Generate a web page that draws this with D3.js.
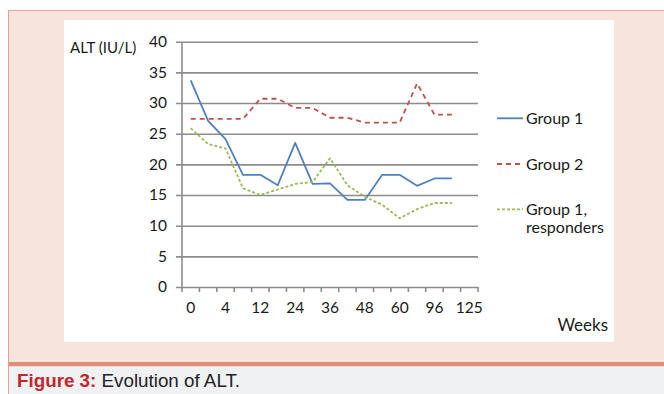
<!DOCTYPE html>
<html>
<head>
<meta charset="utf-8">
<script src="https://cdn.jsdelivr.net/npm/d3@7"></script>
<style>
  html, body { margin: 0; padding: 0; background: #ffffff; }
  svg { display: block; }
</style>
</head>
<body>
<script>
// ---- data ----
const categories = ["0", "2", "4", "8", "12", "16", "24", "30", "36", "42", "48", "54", "60", "72", "96", "108", "125"];
const tickLabels = ["0", "4", "12", "24", "36", "48", "60", "96", "125"];
const group1 = [33.7, 27.1, 24.1, 18.3, 18.3, 16.6, 23.5, 16.8, 16.9, 14.2, 14.2, 18.3, 18.3, 16.5, 17.7, 17.7];
const group2 = [27.4, 27.4, 27.4, 27.4, 30.7, 30.7, 29.2, 29.2, 27.6, 27.6, 26.8, 26.8, 26.8, 33.2, 28.1, 28.1];
const group1Resp = [25.9, 23.3, 22.6, 16.1, 15.0, 15.9, 16.8, 17.1, 21.0, 16.6, 14.7, 13.4, 11.2, 12.7, 13.7, 13.7];
const seriesNames = ["Group 1", "Group 2", "Group 1, responders"];
const yTicks = [0, 5, 10, 15, 20, 25, 30, 35, 40];

(function () {
const W = 664, H = 394;
const svg = d3.select("body").append("svg").attr("width", W).attr("height", H);

// ---- frame ----
svg.append("rect").attr("x", 0).attr("y", 0).attr("width", W).attr("height", H).attr("fill", "#ffffff");
svg.append("rect").attr("x", 8).attr("y", 10).attr("width", W - 8).attr("height", 352).attr("fill", "#f7e4dc");
svg.append("line").attr("x1", 8).attr("x2", W).attr("y1", 10.5).attr("y2", 10.5).attr("stroke", "#eaa594").attr("stroke-width", 1);
svg.append("rect").attr("x", 8).attr("y", 362).attr("width", W - 8).attr("height", 4.5).attr("fill", "#e08e79");
svg.append("rect").attr("x", 8).attr("y", 366.5).attr("width", W - 8).attr("height", H - 366.5).attr("fill", "#f0f1f3");
svg.append("line").attr("x1", 8.5).attr("x2", 8.5).attr("y1", 10).attr("y2", H).attr("stroke", "#e6a08f").attr("stroke-width", 1);
svg.append("rect").attr("x", 64).attr("y", 20).attr("width", 550).attr("height", 322).attr("fill", "#ffffff");

// caption
const cap = svg.append("text").attr("x", 17).attr("y", 387)
  .attr("font-family", "'Liberation Sans', Arial, sans-serif").attr("font-size", 18.8);
cap.append("tspan").attr("fill", "#c1272d").attr("font-weight", "bold").text("Figure 3:");
cap.append("tspan").attr("fill", "#222222").text(" Evolution of ALT.");

// ---- scales ----
const pLeft = 182, pRight = 478, pTop = 41.7, pBottom = 287;
const x = d3.scaleBand().domain(categories).range([pLeft, pRight]).padding(0);
const y = d3.scaleLinear().domain([0, 40]).range([pBottom, pTop]);
const cx = (i) => x(categories[i]) + x.bandwidth() / 2;

const font = "Lato, 'Open Sans', sans-serif";
const gridColor = "#8c8c8c";

// y axis with gridlines
const yAxis = d3.axisLeft(y).tickValues(yTicks).tickSize(-(pRight - pLeft)).tickSizeOuter(0).tickPadding(15);
const gy = svg.append("g").attr("transform", `translate(${pLeft},0)`).call(yAxis);
gy.select(".domain").remove();
gy.selectAll(".tick line").attr("x1", -6).attr("x2", pRight - pLeft).attr("stroke", gridColor).attr("stroke-width", 1.6);
gy.selectAll(".tick text").attr("font-family", font).attr("font-size", 15.5).attr("fill", "#1a1a1a");
svg.append("line").attr("x1", pLeft).attr("x2", pLeft).attr("y1", pTop).attr("y2", pBottom)
  .attr("stroke", gridColor).attr("stroke-width", 1.6);

// x axis: ticks on category boundaries, labels at every other category
const boundaries = categories.map(c => x(c)).concat([pRight]);
const gx = svg.append("g");
gx.selectAll("line.xt").data(boundaries).join("line")
  .attr("x1", d => d).attr("x2", d => d).attr("y1", pBottom).attr("y2", pBottom + 5)
  .attr("stroke", gridColor).attr("stroke-width", 1.6);
gx.selectAll("text").data(categories.filter(c => tickLabels.includes(c))).join("text")
  .attr("x", d => x(d) + x.bandwidth() / 2).attr("y", 308)
  .attr("dy", "0.35em").attr("text-anchor", "middle")
  .attr("font-family", font).attr("font-size", 15.5).attr("fill", "#1a1a1a")
  .text(d => d);

// axis titles
svg.append("text").attr("x", 70).attr("y", 53).attr("font-family", font).attr("font-size", 15)
  .attr("fill", "#1a1a1a").text("ALT (IU/L)");
svg.append("text").attr("x", 608).attr("y", 331).attr("text-anchor", "end").attr("font-family", font)
  .attr("font-size", 17).attr("fill", "#1a1a1a").text("Weeks");

// ---- lines ----
const styles = [
  { data: group1, color: "#4f81bd", dash: null, width: 1.8 },
  { data: group2, color: "#c0504d", dash: "5,4", width: 1.8 },
  { data: group1Resp, color: "#9bbb59", dash: "3,2", width: 1.8 }
];
const line = d3.line().x((d, i) => cx(i)).y(d => y(d));
styles.forEach(s => {
  svg.append("path").datum(s.data).attr("d", line).attr("fill", "none")
    .attr("stroke", s.color).attr("stroke-width", s.width)
    .attr("stroke-dasharray", s.dash).attr("stroke-linejoin", "round");
});

// ---- legend ----
const legY = [118.3, 164, 209.3];
styles.forEach((s, k) => {
  svg.append("line").attr("x1", 497).attr("x2", 523).attr("y1", legY[k]).attr("y2", legY[k])
    .attr("stroke", s.color).attr("stroke-width", 1.8).attr("stroke-dasharray", s.dash);
});
svg.append("text").attr("x", 526).attr("y", legY[0]).attr("dy", "0.35em").attr("font-family", font)
  .attr("font-size", 16).attr("fill", "#1a1a1a").text(seriesNames[0]);
svg.append("text").attr("x", 526).attr("y", legY[1]).attr("dy", "0.35em").attr("font-family", font)
  .attr("font-size", 16).attr("fill", "#1a1a1a").text(seriesNames[1]);
const t3 = svg.append("text").attr("font-family", font).attr("font-size", 16).attr("fill", "#1a1a1a");
t3.append("tspan").attr("x", 526).attr("y", legY[2]).attr("dy", "0.35em").text("Group 1,");
t3.append("tspan").attr("x", 526).attr("y", legY[2] + 18.5).attr("dy", "0.35em").text("responders");
})();
</script>
</body>
</html>
